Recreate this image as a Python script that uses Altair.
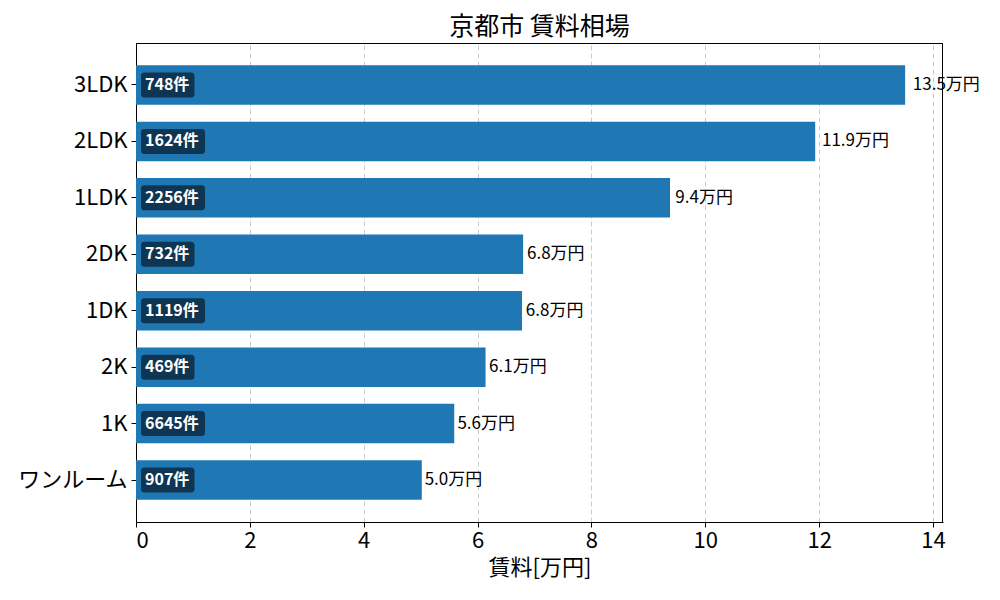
import altair as alt
import pandas as pd

categories = ["3LDK", "2LDK", "1LDK", "2DK", "1DK", "2K", "1K", "ワンルーム"]
rents = [13.51, 11.93, 9.38, 6.80, 6.78, 6.14, 5.59, 5.02]
counts = [748, 1624, 2256, 732, 1119, 469, 6645, 907]
x_ticks = [0, 2, 4, 6, 8, 10, 12, 14]

df = pd.DataFrame({"cat": categories, "rent": rents, "count": counts})

FONT = "Noto Sans CJK JP"
W, H = 807, 479
XMAX = 14.175
PX = W / XMAX

y_enc = alt.Y("cat:N", sort=categories, title=None,
              scale=alt.Scale(paddingInner=0.3, paddingOuter=0.394),
              axis=alt.Axis(labelFontSize=22, labelFont=FONT, labelColor="black",
                            tickColor="black", tickSize=5, domainColor="black",
                            labelPadding=4))
x_scale = alt.Scale(domain=[0, XMAX], nice=False, zero=True)

base = alt.Chart(df)

bars = base.mark_bar(color="#1f77b4").encode(
    x=alt.X("rent:Q", scale=x_scale, title="賃料[万円]",
            axis=alt.Axis(values=x_ticks, format="d", labelFontSize=22, labelFont=FONT,
                          labelColor="black", titleFontSize=22, titleFont=FONT,
                          titleFontWeight="normal", titleColor="black",
                          tickColor="black", tickSize=5, domainColor="black",
                          grid=True, gridColor="#cccccc", gridDash=[5, 3],
                          gridWidth=1, titlePadding=6, labelPadding=3)),
    y=y_enc,
)

boxes = base.transform_calculate(
    ndig="length(toString(datum.count))",
    bx0=f"5/{PX}",
    bx1=f"(5 + 10.5*datum.ndig + 22)/{PX}",
).mark_bar(color="black", opacity=0.55, cornerRadius=3, size=25).encode(
    x=alt.X("bx0:Q", scale=x_scale),
    x2="bx1:Q",
    y=y_enc,
)

count_text = base.transform_calculate(
    lbl="datum.count + '件'",
    tx=f"9/{PX}",
).mark_text(align="left", baseline="middle", color="white", fontWeight="bold",
            fontSize=16, font=FONT).encode(
    x=alt.X("tx:Q", scale=x_scale),
    y=y_enc,
    text="lbl:N",
)

val_text = base.transform_calculate(
    lbl="format(datum.rent, '.1f') + '万円'",
    tx="datum.rent * 1.01",
).mark_text(align="left", baseline="middle", color="black", fontSize=17, font=FONT).encode(
    x=alt.X("tx:Q", scale=x_scale),
    y=y_enc,
    text="lbl:N",
)

frame_top = alt.Chart().mark_rule(color="black", strokeWidth=1).encode(
    x=alt.value(0), x2=alt.value(W), y=alt.value(0.5))
frame_right = alt.Chart().mark_rule(color="black", strokeWidth=1).encode(
    x=alt.value(W - 0.5), y=alt.value(0), y2=alt.value(H))

chart = alt.layer(bars, boxes, count_text, val_text, frame_top, frame_right).properties(
    width=W, height=H,
    background="white",
    title=alt.Title("京都市 賃料相場", fontSize=25, font=FONT, fontWeight="normal",
                    color="black", anchor="middle", offset=3),
    autosize=alt.AutoSizeParams(type="none"),
    padding={"left": 128, "top": 35, "right": 40, "bottom": 70},
).configure_view(stroke=None)

chart.save("out.html", embed_options={"renderer": "svg", "actions": False})
